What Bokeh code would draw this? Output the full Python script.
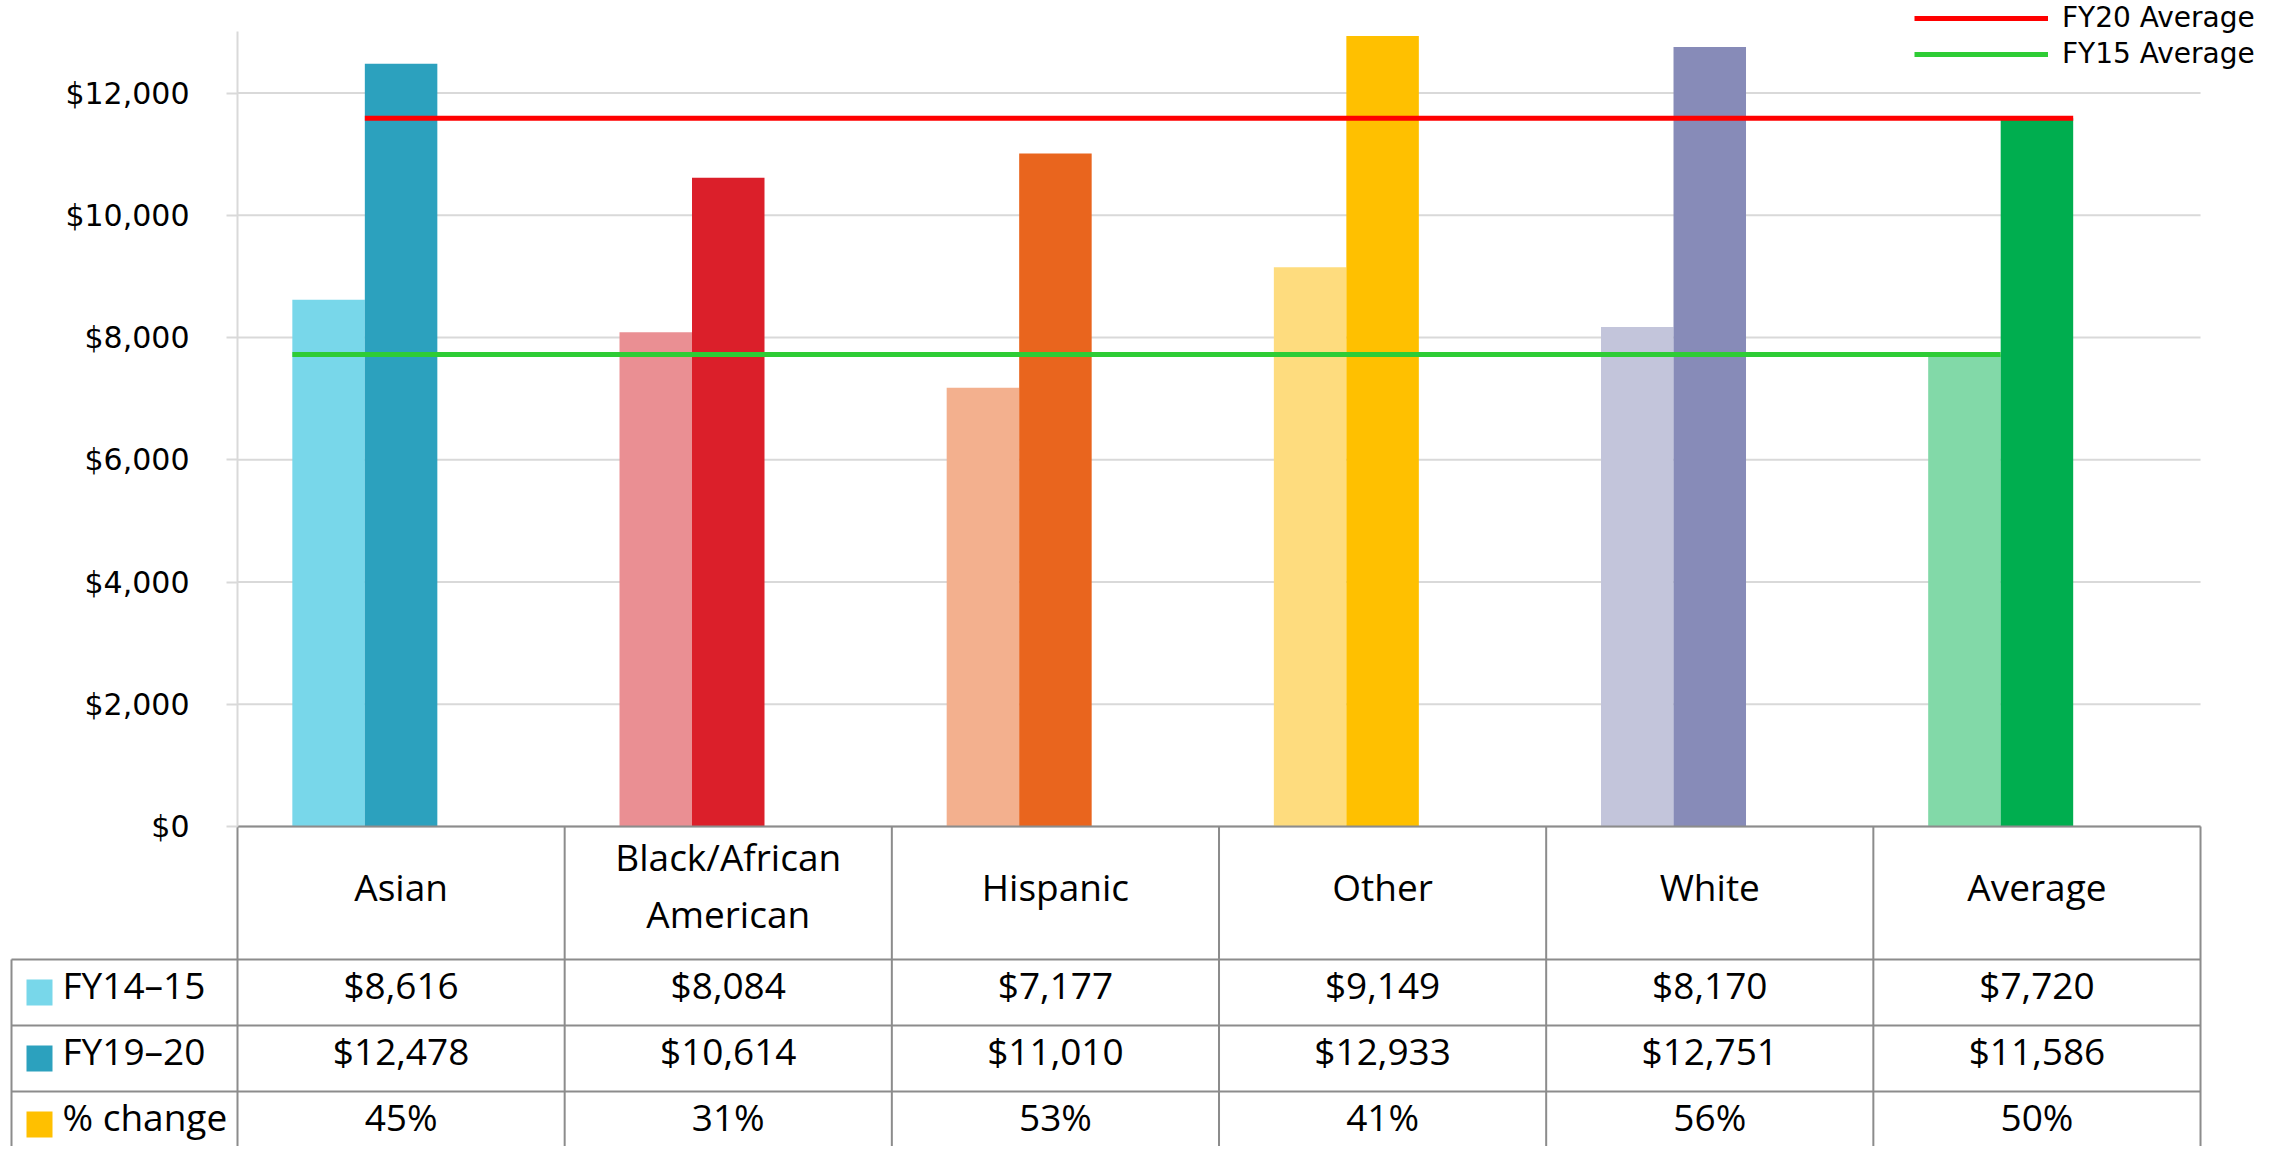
from bokeh.plotting import figure
from bokeh.models import (Range1d, LinearAxis, FixedTicker, NumeralTickFormatter,
                          Legend, LegendItem)
from bokeh.core.properties import value
from bokeh.embed import file_html
from bokeh.resources import INLINE

# ---------------- data ----------------
categories = ["Asian", "Black/African American", "Hispanic", "Other", "White", "Average"]
header_lines = [["Asian"], ["Black/African", "American"], ["Hispanic"], ["Other"], ["White"], ["Average"]]
fy15 = [8616, 8084, 7177, 9149, 8170, 7720]
fy20 = [12478, 10614, 11010, 12933, 12751, 11586]
pct_change = [45, 31, 53, 41, 56, 50]
row_labels = ["FY14\u201315", "FY19\u201320", "% change"]
y_ticks = [0, 2000, 4000, 6000, 8000, 10000, 12000]
y_max = 13000
legend_labels = ["FY20 Average", "FY15 Average"]

light_colors = ["#78D7EA", "#EA8F93", "#F3B08E", "#FEDC7E", "#C3C5DB", "#82D9A8"]
dark_colors = ["#2CA1BE", "#DB1F2A", "#E9651E", "#FFC000", "#878BB8", "#00AE4F"]
row_swatch = ["#78D7EA", "#2CA1BE", "#FFC000"]
avg20_color = "#FF0000"
avg15_color = "#2ECC35"

# ---------------- geometry (reference pixels) ----------------
W, H = 2287, 1146
OX, OY = 0, 0
X0 = 237.0            # pixel of category axis start
PX_CAT = 327.17       # pixels per category
Y0 = 826.0            # pixel of $0
PX_USD = 0.061125     # pixels per dollar
BW = 72.5 / PX_CAT    # bar width in category units
n = len(categories)

x_range = Range1d((OX - X0) / PX_CAT, (OX + W - X0) / PX_CAT)
y_range = Range1d((Y0 - (OY + H)) / PX_USD, (Y0 - OY) / PX_USD)

p = figure(width=W, height=H, x_range=x_range, y_range=y_range,
           output_backend="svg", toolbar_location=None, title=None,
           x_axis_location=None, y_axis_location=None,
           min_border=0, min_border_left=0, min_border_right=0,
           min_border_top=0, min_border_bottom=0)
p.extra_x_ranges = {"px": Range1d(OX, OX + W)}
p.extra_y_ranges = {"tbl": Range1d(OY + H, OY)}
p.outline_line_color = None
p.background_fill_color = "white"
p.border_fill_color = "white"
for g in p.grid:
    g.visible = False

# gridlines
p.segment(x0=[0] * len(y_ticks), x1=[n] * len(y_ticks), y0=y_ticks, y1=y_ticks,
          line_color="#D9D9D9", line_width=2)

# y axis
yaxis = LinearAxis(fixed_location=0, ticker=FixedTicker(ticks=y_ticks),
                   formatter=NumeralTickFormatter(format="$0,0"), bounds=(0, y_max),
                   axis_line_color="#D9D9D9", axis_line_width=2,
                   major_tick_line_color="#D9D9D9", major_tick_line_width=2,
                   major_tick_out=11, major_tick_in=0, minor_tick_line_color=None,
                   major_label_standoff=37, major_label_text_font="DejaVu Sans",
                   major_label_text_font_size="30px", major_label_text_color="#000000")
p.add_layout(yaxis, "left")

# bars
centers = [i + 0.5 for i in range(n)]
p.vbar(x=[c - BW for c in centers], top=fy15, bottom=0, width=BW,
       fill_color=light_colors, line_color=None)
p.vbar(x=centers, top=fy20, bottom=0, width=BW,
       fill_color=dark_colors, line_color=None)

# average lines
avg15 = fy15[-1]
avg20 = fy20[-1]
r20 = p.line(x=[centers[0] - BW / 2, centers[-1] + BW / 2], y=[avg20, avg20],
             line_color=avg20_color, line_width=5)
r15 = p.line(x=[centers[0] - 1.5 * BW, centers[-1] - 0.5 * BW], y=[avg15, avg15],
             line_color=avg15_color, line_width=5)

legend = Legend(items=[LegendItem(label=legend_labels[0], renderers=[r20]),
                       LegendItem(label=legend_labels[1], renderers=[r15])],
                location=(1914 - OX, 1076), orientation="vertical",
                glyph_width=134, glyph_height=16, label_height=16, label_standoff=14,
                spacing=3, padding=0, margin=0, border_line_color=None,
                background_fill_alpha=0, label_text_font="DejaVu Sans",
                label_text_font_size="28px", label_text_color="#000000")
p.add_layout(legend, "center")

# ---------------- table ----------------
line_c = "#8C8C8C"
col_x = [X0 + k * PX_CAT for k in range(n + 1)]
tbl_left = 11.0
header_bottom = 959.0
row_h = 66.0
row_tops = [header_bottom + r * row_h for r in range(3)]
tbl_bottom = header_bottom + 3 * row_h

# horizontal lines
hx0 = [col_x[0]] + [tbl_left] * 4
hx1 = [col_x[-1]] * 5
hy = [Y0] + row_tops + [tbl_bottom]
p.segment(x0=hx0, x1=hx1, y0=hy, y1=hy, line_color=line_c, line_width=2,
          x_range_name="px", y_range_name="tbl")
# vertical lines
vx = col_x + [tbl_left]
vy0 = [Y0] * len(col_x) + [header_bottom]
vy1 = [tbl_bottom] * len(vx)
p.segment(x0=vx, x1=vx, y0=vy0, y1=vy1, line_color=line_c, line_width=2,
          x_range_name="px", y_range_name="tbl")

tfont = value("Open Sans")
tsize = value("37px")
ADJ = -2.5  # em-middle vs cap-centre correction

# header text (cap centres)
hx, hy_, ht = [], [], []
for i, lines in enumerate(header_lines):
    if len(lines) == 1:
        hx.append(centers[i]); hy_.append(888.0 + ADJ); ht.append(lines[0])
    else:
        for j, s in enumerate(lines):
            hx.append(centers[i]); hy_.append(858.0 + 57.0 * j + ADJ); ht.append(s)
p.text(x=hx, y=hy_, text=ht, text_font=tfont, text_font_size=tsize,
       text_align="center", text_baseline="middle", text_color="#000000",
       y_range_name="tbl")

# value rows
cap_off = 27.5
rows = [[f"${v:,}" for v in fy15], [f"${v:,}" for v in fy20], [f"{v}%" for v in pct_change]]
vx_, vy_, vt = [], [], []
for r, vals in enumerate(rows):
    for i, s in enumerate(vals):
        vx_.append(centers[i]); vy_.append(row_tops[r] + cap_off + ADJ); vt.append(s)
p.text(x=vx_, y=vy_, text=vt, text_font=tfont, text_font_size=tsize,
       text_align="center", text_baseline="middle", text_color="#000000",
       y_range_name="tbl")

# row labels with swatches
p.rect(x=[39.0] * 3, y=[t + row_h / 2 for t in row_tops], width=26, height=26,
       fill_color=row_swatch, line_color=None, x_range_name="px", y_range_name="tbl")
p.text(x=[62.0] * 3, y=[t + cap_off + ADJ for t in row_tops], text=row_labels,
       text_font=tfont, text_font_size=tsize, text_align="left",
       text_baseline="middle", text_color="#000000",
       x_range_name="px", y_range_name="tbl")

open("out.html", "w").write(file_html(p, INLINE))
